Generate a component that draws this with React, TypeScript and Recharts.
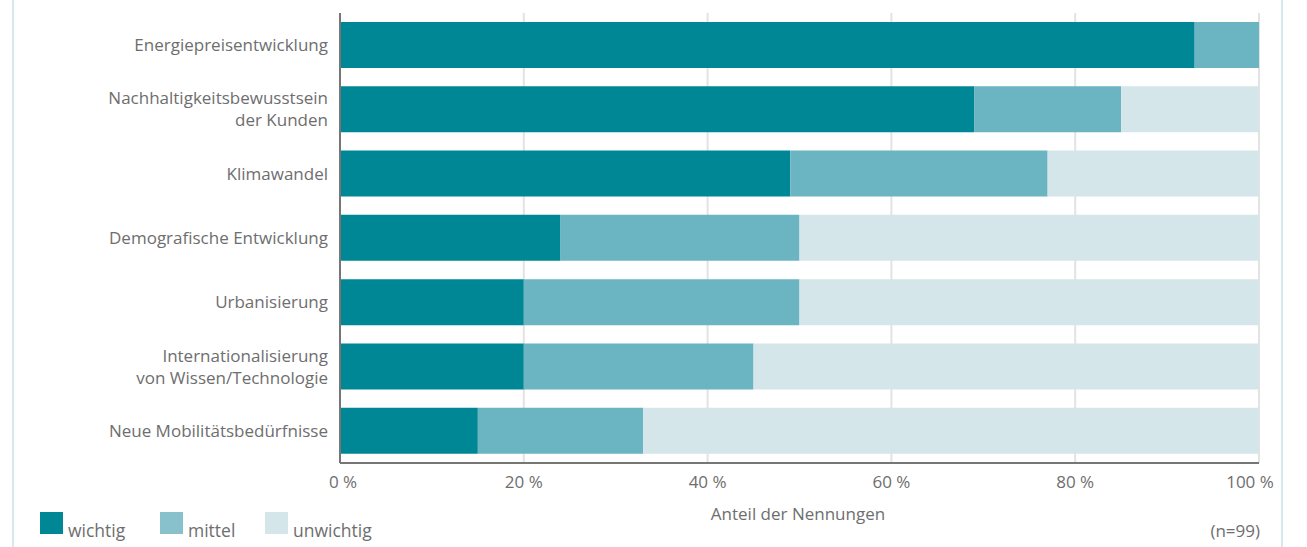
import React from 'react';
import { BarChart, Bar, XAxis, YAxis, CartesianGrid } from 'recharts';

const categories = [
  'Energiepreisentwicklung',
  'Nachhaltigkeitsbewusstsein\nder Kunden',
  'Klimawandel',
  'Demografische Entwicklung',
  'Urbanisierung',
  'Internationalisierung\nvon Wissen/Technologie',
  'Neue Mobilitätsbedürfnisse',
];
const wichtig = [93, 69, 49, 24, 20, 20, 15];
const mittel = [7, 16, 28, 26, 30, 25, 18];
const unwichtig = [0, 15, 23, 50, 50, 55, 67];
const xTicks = [0, 20, 40, 60, 80, 100];

const COLORS = { wichtig: '#008796', mittel: '#6bb4c2', unwichtig: '#d5e6ea' };
const LEGEND_COLORS = { wichtig: '#008796', mittel: '#88c0cc', unwichtig: '#d5e6ea' };
const FONT = '"Open Sans", Lato, sans-serif';
const TEXT = '#6e6e6e';
const FS = 17;

const data = categories.map((name, i) => ({
  name,
  wichtig: wichtig[i],
  mittel: mittel[i],
  unwichtig: unwichtig[i],
}));

// y-axis labels; "\n" splits into stacked lines centred on the band
const CategoryTick = ({ x, y, payload }: any) => {
  const lines = String(payload.value).split('\n');
  const lh = 22;
  const start = -((lines.length - 1) * lh) / 2;
  return (
    <text x={x} y={y} textAnchor="end" fill={TEXT} fontSize={FS} fontFamily={FONT}>
      {lines.map((l, i) => (
        <tspan key={i} x={x} dy={i === 0 ? start + 6 : lh}>
          {l}
        </tspan>
      ))}
    </text>
  );
};

const PercentTick = ({ x, y, payload }: any) => {
  const shift = payload.value === 0 ? 3 : payload.value === 100 ? -9 : 0;
  return (
    <text x={x + shift} y={y} dy={13} textAnchor="middle" fill={TEXT} fontSize={FS} fontFamily={FONT}>
      {payload.value} %
    </text>
  );
};

const legendItems: { key: keyof typeof COLORS; label: string; left: number }[] = [
  { key: 'wichtig', label: 'wichtig', left: 40 },
  { key: 'mittel', label: 'mittel', left: 160 },
  { key: 'unwichtig', label: 'unwichtig', left: 265 },
];

export default function App() {
  return (
    <div style={{ position: 'absolute', left: 0, top: 0, width: 1307, height: 547, background: '#fff', fontFamily: FONT }}>
      {/* frame lines */}
      <div style={{ position: 'absolute', left: 12, top: 0, width: 2, height: 547, background: '#d9e8ef' }} />
      <div style={{ position: 'absolute', left: 1281, top: 0, width: 2, height: 547, background: '#d9e8ef' }} />

      <BarChart
        width={1307}
        height={547}
        data={data}
        layout="vertical"
        margin={{ top: 13, right: 48, bottom: 54, left: 0 }}
        barCategoryGap={9}
      >
        <CartesianGrid horizontal={false} stroke="#e3e3e3" strokeWidth={2} />
        <XAxis
          type="number"
          domain={[0, 100]}
          ticks={xTicks}
          axisLine={{ stroke: '#767676', strokeWidth: 2 }}
          tickLine={false}
          tick={<PercentTick />}
          height={30}
          tickMargin={6}
        />
        <YAxis
          type="category"
          dataKey="name"
          width={340}
          axisLine={{ stroke: '#767676', strokeWidth: 2 }}
          tickLine={false}
          tick={<CategoryTick />}
          tickMargin={6}
          interval={0}
        />
        <Bar dataKey="wichtig" stackId="a" fill={COLORS.wichtig} isAnimationActive={false} />
        <Bar dataKey="mittel" stackId="a" fill={COLORS.mittel} isAnimationActive={false} />
        <Bar dataKey="unwichtig" stackId="a" fill={COLORS.unwichtig} isAnimationActive={false} />
      </BarChart>

      <div style={{ position: 'absolute', left: 600, width: 396, top: 502, textAlign: 'center', fontSize: FS, color: TEXT }}>
        Anteil der Nennungen
      </div>
      <div style={{ position: 'absolute', right: 47, top: 519, fontSize: FS, color: TEXT }}>(n=99)</div>

      {legendItems.map((it) => (
        <div key={it.key} style={{ position: 'absolute', left: it.left, top: 512, display: 'flex', alignItems: 'flex-end' }}>
          <div style={{ width: 23, height: 22, background: LEGEND_COLORS[it.key] }} />
          <span style={{ marginLeft: 5, fontSize: 17.5, color: TEXT, lineHeight: '20px', position: 'relative', top: 6 }}>{it.label}</span>
        </div>
      ))}
    </div>
  );
}
